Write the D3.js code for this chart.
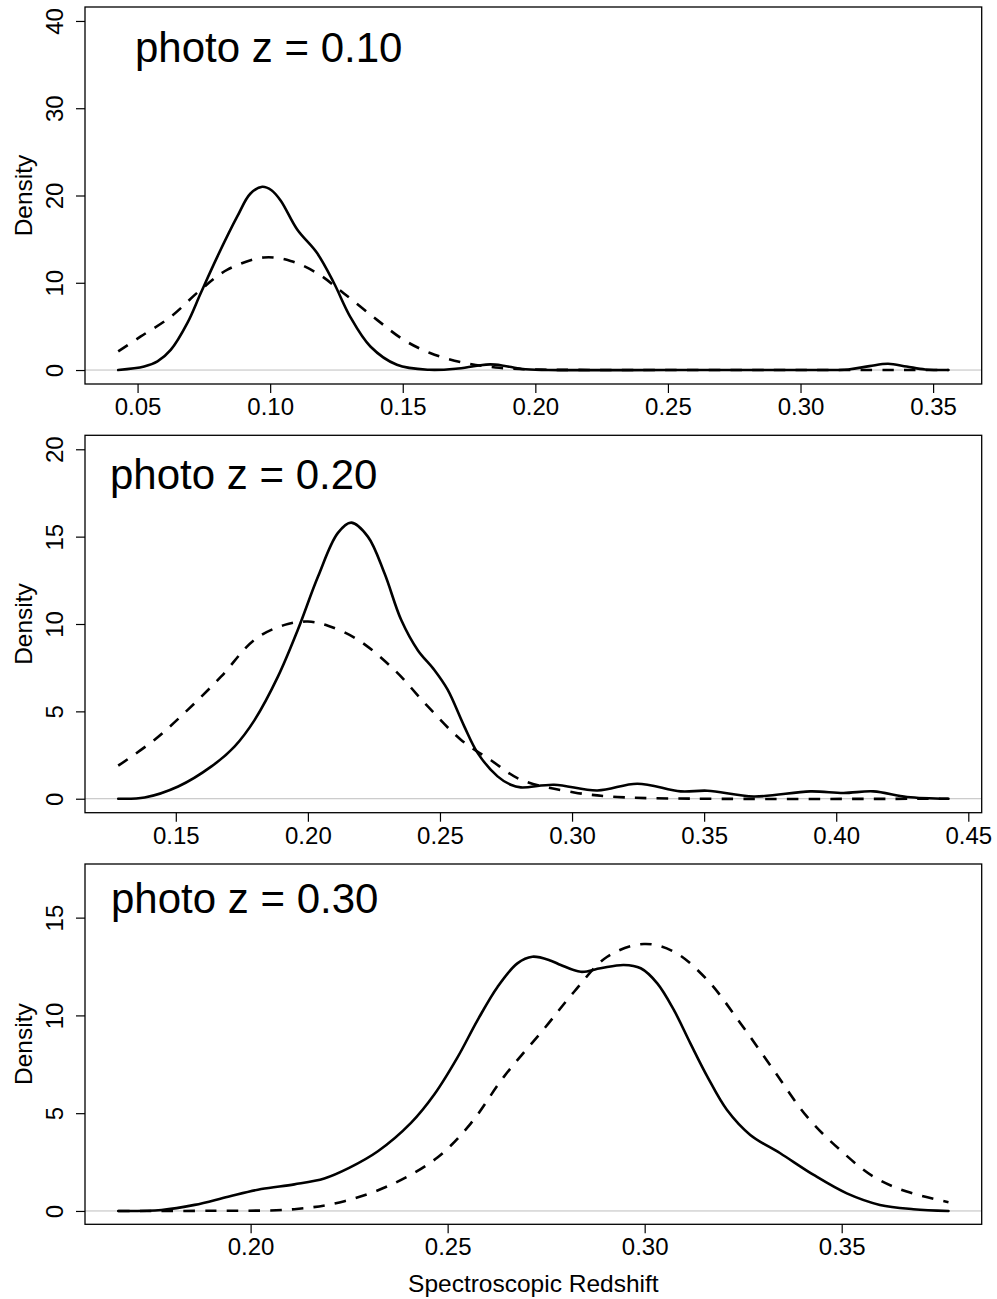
<!DOCTYPE html>
<html>
<head>
<meta charset="utf-8">
<script src="https://cdn.jsdelivr.net/npm/d3@7"></script>
<style>
  html, body { margin: 0; padding: 0; background: #fff; }
  svg { display: block; }
  text { font-family: "Liberation Sans", Arial, Helvetica, sans-serif; fill: #000; }
</style>
</head>
<body>
<svg id="chart" width="997" height="1299"></svg>
<script>
// ---------------- data ----------------
const titles = ["photo z = 0.10", "photo z = 0.20", "photo z = 0.30"];
const xLabel = "Spectroscopic Redshift";
const yLabel = "Density";

const xTicks1 = [0.05, 0.10, 0.15, 0.20, 0.25, 0.30, 0.35];
const xTicks2 = [0.15, 0.20, 0.25, 0.30, 0.35, 0.40, 0.45];
const xTicks3 = [0.20, 0.25, 0.30, 0.35];
const yTicks1 = [0, 10, 20, 30, 40];
const yTicks2 = [0, 5, 10, 15, 20];
const yTicks3 = [0, 5, 10, 15];
const yLim1 = [0, 40];
const yLim2 = [0, 20];
const yLim3 = [0, 17.06];

// photo z = 0.10 : spectroscopic density (solid) and photo-z model (dashed)
const solid1 = [
  [0.0427,0],[0.0525,0.4],[0.0575,0.98],[0.0625,2.3],[0.0688,5.4],[0.0738,8.8],[0.0801,13.0],
  [0.0876,17.6],[0.0925,20.2],[0.0970,21.0],[0.1005,20.6],[0.1040,19.4],[0.1102,16.1],
  [0.1177,13.4],[0.1240,10.0],[0.1302,6.1],[0.1378,2.7],[0.1478,0.6],[0.1600,0.03],
  [0.1700,0.15],[0.1780,0.5],[0.1830,0.65],[0.1880,0.5],[0.1950,0.12],[0.2050,0.01],
  [0.2500,0.0],[0.3000,0.01],[0.3180,0.07],[0.3260,0.45],[0.3330,0.72],[0.3400,0.4],
  [0.3470,0.07],[0.3558,0]
];
const dashed1 = [
  [0.0427,2.13],[0.0512,3.85],[0.0625,6.1],[0.0738,9.2],[0.0839,11.5],[0.0976,12.9],
  [0.1077,12.5],[0.1177,11.1],[0.1277,8.8],[0.1403,5.75],[0.1503,3.47],[0.1603,1.95],
  [0.1720,0.9],[0.1850,0.3],[0.2000,0.06],[0.2200,0.01],[0.3000,0.0],[0.3558,0]
];

// photo z = 0.20
const solid2 = [
  [0.1282,0],[0.1382,0.07],[0.1509,0.7],[0.1635,1.85],[0.1723,3.0],[0.1798,4.5],
  [0.1887,7.0],[0.1962,9.67],[0.2038,12.7],[0.2113,15.2],[0.2164,15.8],[0.2227,15.0],
  [0.2290,12.9],[0.2353,10.24],[0.2416,8.5],[0.2478,7.38],[0.2529,6.24],[0.2592,4.14],
  [0.2643,2.61],[0.2718,1.28],[0.2768,0.8],[0.2806,0.65],[0.2932,0.8],[0.3096,0.47],
  [0.3247,0.86],[0.3411,0.42],[0.3512,0.46],[0.3688,0.13],[0.3902,0.42],[0.4028,0.33],
  [0.4141,0.42],[0.4268,0.1],[0.4425,0]
];
const dashed2 = [
  [0.1282,1.89],[0.1420,3.38],[0.1546,5.1],[0.1672,7.0],[0.1798,9.1],[0.1912,9.95],
  [0.2000,10.14],[0.2076,9.9],[0.2189,9.1],[0.2327,7.38],[0.2454,5.28],[0.2579,3.38],
  [0.2693,2.2],[0.2806,1.09],[0.3008,0.36],[0.3172,0.1],[0.3400,0.01],[0.4425,0]
];

// photo z = 0.30
const solid3 = [
  [0.1664,0],[0.1774,0.05],[0.1858,0.31],[0.1943,0.73],[0.2027,1.12],[0.2111,1.36],
  [0.2187,1.66],[0.2250,2.2],[0.2323,3.05],[0.2407,4.5],[0.2466,5.95],[0.2525,7.85],
  [0.2576,9.76],[0.2627,11.47],[0.2677,12.66],[0.2715,13.0],[0.2762,12.8],[0.2787,12.58],
  [0.2838,12.23],[0.2888,12.41],[0.2947,12.58],[0.2990,12.41],[0.3032,11.64],[0.3074,10.28],
  [0.3116,8.57],[0.3159,6.87],[0.3209,5.16],[0.3268,3.89],[0.3344,2.95],[0.3429,1.84],
  [0.3513,0.9],[0.3597,0.31],[0.3682,0.09],[0.3771,0]
];
const dashed3 = [
  [0.1664,0],[0.1900,0.01],[0.2111,0.09],[0.2238,0.5],[0.2365,1.42],[0.2475,2.75],
  [0.2559,4.48],[0.2643,6.87],[0.2749,9.42],[0.2821,11.21],[0.2905,13.0],[0.2998,13.65],
  [0.3074,13.26],[0.3159,11.81],[0.3243,9.6],[0.3327,7.21],[0.3412,4.82],[0.3496,3.12],
  [0.3581,1.75],[0.3665,0.99],[0.3771,0.45]
];

// ---------------- layout ----------------
const panels = [
  { title: titles[0], solid: solid1, dashed: dashed1, xTicks: xTicks1, yTicks: yTicks1, yLim: yLim1,
    top: 7, bottom: 384, titleX: 135, titleY: 62 },
  { title: titles[1], solid: solid2, dashed: dashed2, xTicks: xTicks2, yTicks: yTicks2, yLim: yLim2,
    top: 435.3, bottom: 812.7, titleX: 110, titleY: 489 },
  { title: titles[2], solid: solid3, dashed: dashed3, xTicks: xTicks3, yTicks: yTicks3, yLim: yLim3,
    top: 864, bottom: 1224.3, titleX: 111, titleY: 913 }
];
const left = 85, right = 981.7;

const svg = d3.select("#chart");

function ext(lo, hi) { const r = hi - lo; return [lo - 0.04 * r, hi + 0.04 * r]; }

panels.forEach((p, i) => {
  const xs = p.solid.map(d => d[0]).concat(p.dashed.map(d => d[0]));
  const x = d3.scaleLinear().domain(ext(d3.min(xs), d3.max(xs))).range([left, right]);
  const y = d3.scaleLinear().domain(ext(p.yLim[0], p.yLim[1])).range([p.bottom, p.top]);

  const g = svg.append("g");
  const clipId = "clip" + i;
  g.append("clipPath").attr("id", clipId)
    .append("rect").attr("x", left).attr("y", p.top)
    .attr("width", right - left).attr("height", p.bottom - p.top);

  // zero line
  g.append("line")
    .attr("x1", left).attr("x2", right)
    .attr("y1", y(0)).attr("y2", y(0))
    .attr("stroke", "#bebebe").attr("stroke-width", 1);

  const line = d3.line().x(d => x(d[0])).y(d => y(d[1])).curve(d3.curveCatmullRom.alpha(0.5));

  g.append("path").datum(p.dashed)
    .attr("clip-path", `url(#${clipId})`)
    .attr("d", line).attr("fill", "none").attr("stroke", "#000")
    .attr("stroke-width", 2.6).attr("stroke-dasharray", "11.5,10.2");

  g.append("path").datum(p.solid)
    .attr("clip-path", `url(#${clipId})`)
    .attr("d", line).attr("fill", "none").attr("stroke", "#000")
    .attr("stroke-width", 2.6).attr("stroke-linejoin", "round").attr("stroke-linecap", "round");

  // box
  g.append("rect").attr("x", left).attr("y", p.top)
    .attr("width", right - left).attr("height", p.bottom - p.top)
    .attr("fill", "none").attr("stroke", "#000").attr("stroke-width", 1.3);

  // x axis
  const xa = g.append("g").attr("transform", `translate(0,${p.bottom})`)
    .call(d3.axisBottom(x).tickValues(p.xTicks).tickFormat(d3.format(".2f")).tickSize(9).tickSizeOuter(0));
  xa.select(".domain").remove();
  xa.selectAll(".tick line").attr("stroke", "#000").attr("stroke-width", 1.2);
  xa.selectAll(".tick text").attr("y", 31).attr("dy", 0)
    .attr("font-size", 24).attr("fill", "#000")
    .style("font-family", '"Liberation Sans", Arial, sans-serif');

  // y axis
  const ya = g.append("g").attr("transform", `translate(${left},0)`)
    .call(d3.axisLeft(y).tickValues(p.yTicks).tickFormat(d3.format("d")).tickSize(9).tickSizeOuter(0));
  ya.select(".domain").remove();
  ya.selectAll(".tick line").attr("stroke", "#000").attr("stroke-width", 1.2);
  ya.selectAll(".tick text")
    .attr("x", 0).attr("y", 0).attr("dy", 0)
    .attr("text-anchor", "middle")
    .attr("transform", "translate(-21.7,0) rotate(-90)")
    .attr("font-size", 24).attr("fill", "#000")
    .style("font-family", '"Liberation Sans", Arial, sans-serif');

  // y label
  g.append("text")
    .attr("transform", `translate(31.7,${(p.top + p.bottom) / 2}) rotate(-90)`)
    .attr("text-anchor", "middle").attr("font-size", 24.5)
    .text(yLabel);

  // title
  g.append("text")
    .attr("x", p.titleX).attr("y", p.titleY)
    .attr("font-size", 42)
    .text(p.title);
});

svg.append("text")
  .attr("x", (left + right) / 2).attr("y", 1292)
  .attr("text-anchor", "middle").attr("font-size", 24.5)
  .text(xLabel);
</script>
</body>
</html>
